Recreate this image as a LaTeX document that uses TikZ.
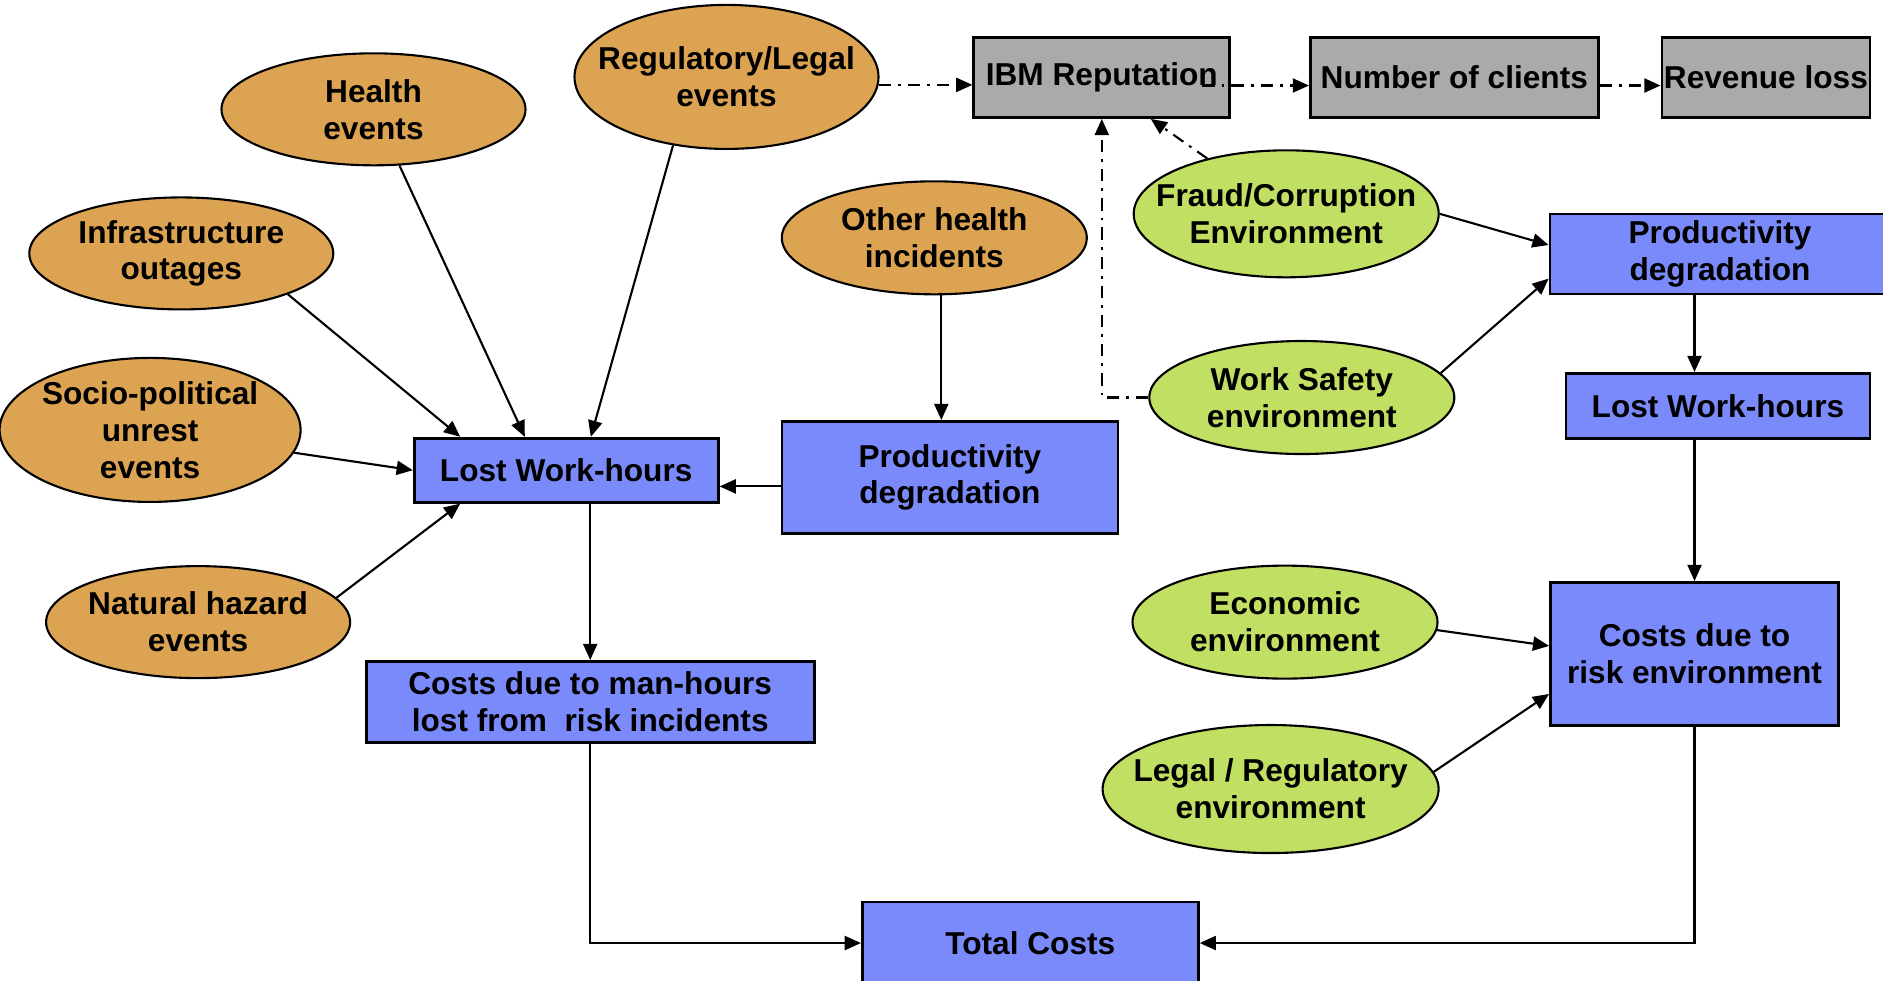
\documentclass[tikz,border=0pt]{standalone}
\usepackage{fontspec}
\setmainfont{Liberation Sans}
\usepackage{tikz}
\usetikzlibrary{arrows.meta,positioning,calc,shapes.geometric}

\definecolor{riskorange}{RGB}{220,163,83}
\definecolor{envgreen}{RGB}{192,223,99}
\definecolor{costblue}{RGB}{122,138,250}
\definecolor{repgray}{RGB}{170,170,170}

\begin{document}
\begin{tikzpicture}[every text node part/.style={align=center},
  font=\fontsize{9}{10.5}\selectfont\bfseries,
  >={Triangle[length=4.6pt,width=4pt]}, line width=0.6pt,
  risk/.style={ellipse, draw, fill=riskorange, inner sep=-0.3cm, minimum width=3.04cm, minimum height=1.12cm},
  env/.style={ellipse, draw, fill=envgreen, inner sep=-0.3cm, minimum width=3.05cm, minimum height=1.13cm},
  cost/.style={rectangle, draw, line width=0.8pt, fill=costblue, inner sep=0pt},
  repu/.style={rectangle, draw, line width=0.8pt, fill=repgray, inner sep=0pt, minimum height=0.8cm},
  dd/.style={dash pattern=on 3.5pt off 2pt on 0.8pt off 2pt}]

 \useasboundingbox (0,0) rectangle (18.83,-9.80);
 \clip (0,0) rectangle (18.83,-9.80);

 % incident side
 \node(health) [risk] at (3.735,-1.093) {Health \\ events};
 \node(regulatory) [risk, minimum height=1.44cm] at (7.265,-0.769) {Regulatory/Legal \\ events};
 \node(infrastructure) [risk] at (1.813,-2.534) {Infrastructure \\ outages};
 \node(sociopolitical) [risk, minimum width=3.01cm, minimum height=1.44cm] at (1.501,-4.299) {Socio-political \\ unrest \\ events};
 \node(natural) [risk] at (1.981,-6.221) {Natural hazard \\ events};
 \node(otherhealth) [risk, minimum width=3.05cm, minimum height=1.13cm] at (9.343,-2.378) {Other health \\ incidents};

 \node(lostwork) [cost, minimum width=3.04cm, minimum height=0.64cm] at (5.662,-4.702) {Lost Work-hours};
 \node(productivity) [cost, minimum width=3.36cm, minimum height=1.12cm] at (9.499,-4.774) {Productivity \\ degradation};
 \node(mancosts) [cost, minimum width=4.48cm, minimum height=0.81cm] at (5.902,-7.019) {Costs due to man-hours \\ lost from \ risk incidents};
 \node(totalcosts) [cost, minimum width=3.36cm, minimum height=0.82cm] at (10.303,-9.43) {Total Costs};

 % reputation chain
 \node(reputation) [repu, minimum width=2.56cm] at (11.018,-0.775) {IBM Reputation};
 \node(clients) [repu, minimum width=2.88cm] at (14.543,-0.775) {Number of clients};
 \node(revenue) [repu, minimum width=2.08cm] at (17.659,-0.775) {Revenue loss};

 % environment side
 \node(fraud) [env, minimum height=1.27cm] at (12.862,-2.138) {Fraud/Corruption \\ Environment};
 \node(safety) [env] at (13.018,-3.975) {Work Safety \\ environment};
 \node(economic) [env] at (12.85,-6.221) {Economic \\ environment};
 \node(legal) [env, minimum width=3.36cm, minimum height=1.28cm] at (12.706,-7.89) {Legal / Regulatory \\ environment};

 \node(envproductivity) [cost, minimum width=3.4cm, minimum height=0.8cm] at (17.2,-2.54) {Productivity \\ degradation};
 \node(envlost) [cost, minimum width=3.04cm, minimum height=0.65cm] at (17.179,-4.059) {Lost Work-hours};
 \node(envcosts) [cost, minimum width=2.88cm, minimum height=1.43cm] at (16.945,-6.539) {Costs due to \\ risk environment};

 \path[->] (infrastructure.339) edge ([xshift=-1.06cm]lostwork.north)
           (health) edge ([xshift=-0.414cm]lostwork.north)
           (regulatory.232) edge ([xshift=0.246cm]lostwork.north)
           (sociopolitical.351) edge (lostwork.west)
           (natural.10) edge ([xshift=-1.06cm]lostwork.south)
           ([yshift=-0.09cm]productivity.west) edge ([yshift=-0.09cm]productivity.west -| lostwork.east)
           ([xshift=0.07cm]otherhealth.south) edge ([xshift=0.07cm]otherhealth.south |- productivity.north)
           (mancosts.north |- lostwork.south) edge (mancosts.north);

 \path[->] (fraud.east) edge ([yshift=0.09cm]envproductivity.west)
           (safety.10) edge ([yshift=-0.246cm]envproductivity.west)
           (envproductivity.south -| envcosts.north) edge (envcosts.north |- envlost.north)
           (envlost.south -| envcosts.north) edge (envcosts.north)
           (economic.357) edge ([yshift=0.08cm]envcosts.west)
           (legal.6) edge ([yshift=-0.40cm]envcosts.west);

 \draw[->] (mancosts.south) |- (totalcosts.west);
 \draw[->] (envcosts.south) |- (totalcosts.east);

 \path[->, dd] (regulatory.-3) edge (regulatory.-3 -| reputation.west)
               ([xshift=-0.29cm,yshift=-0.08cm]reputation.east) edge ([yshift=-0.08cm]clients.west)
               ([yshift=-0.08cm]clients.east) edge ([yshift=-0.08cm]revenue.west)
               (fraud) edge ([xshift=0.49cm]reputation.south);
 \draw[->, dd] (safety.west) -| (reputation.south);

\end{tikzpicture}
\end{document}
